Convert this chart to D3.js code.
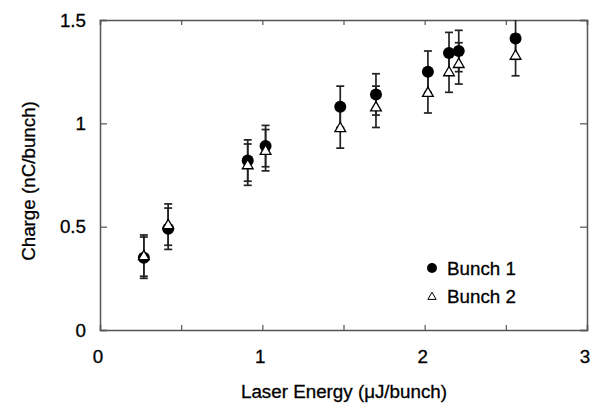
<!DOCTYPE html>
<html><head><meta charset="utf-8">
<script src="https://cdn.jsdelivr.net/npm/d3@7"></script>
<style>body{margin:0;background:#fff}svg{display:block}text{font-family:"Liberation Sans",Arial,sans-serif;stroke:#000;stroke-width:0.3px}</style>
</head><body><svg id="c" width="599" height="412"></svg>
<script>
const energy = [0.27, 0.42, 0.91, 1.02, 1.48, 1.70, 2.02, 2.15, 2.21, 2.56];
const bunch1 = [0.35, 0.49, 0.82, 0.89, 1.08, 1.14, 1.25, 1.34, 1.35, 1.41];
const bunch2 = [0.36, 0.51, 0.80, 0.87, 0.98, 1.08, 1.15, 1.25, 1.29, 1.33];
const err1 = [0.1, 0.1, 0.1, 0.1, 0.1, 0.1, 0.1, 0.1, 0.1, 0.1];
const err2 = [0.1, 0.1, 0.1, 0.1, 0.1, 0.1, 0.1, 0.1, 0.1, 0.1];
const xTicks = [0, 1, 2, 3];
const xMinor = [0.5, 1.5, 2.5];
const yTicks = [0, 0.5, 1, 1.5];
const yTickLabels = ["0", "0.5", "1", "1.5"];
const seriesNames = ["Bunch 1", "Bunch 2"];

const svg = d3.select("#c");
const L = 100, R = 587, T = 20, B = 330;
const FS = 18.8;
const x = d3.scaleLinear().domain([0, 3]).range([L, R]);
const y = d3.scaleLinear().domain([0, 1.5]).range([B, T]);
const frameCol = "#555", barCol = "#222";

svg.append("defs").append("clipPath").attr("id","clip")
  .append("rect").attr("x",L).attr("y",T).attr("width",R-L).attr("height",B-T);

const gB = svg.append("g").attr("transform",`translate(0,${B})`)
  .call(d3.axisBottom(x).tickValues(xTicks.concat(xMinor)).tickSize(-5).tickFormat(""));
const gT = svg.append("g").attr("transform",`translate(0,${T})`)
  .call(d3.axisTop(x).tickValues(xTicks.concat(xMinor)).tickSize(-5).tickFormat(""));
const gL = svg.append("g").attr("transform",`translate(${L},0)`)
  .call(d3.axisLeft(y).tickValues(yTicks).tickSize(-7).tickFormat(""));
const gR = svg.append("g").attr("transform",`translate(${R},0)`)
  .call(d3.axisRight(y).tickValues(yTicks).tickSize(-7).tickFormat(""));
[gB,gT,gL,gR].forEach(g=>{
  g.select(".domain").attr("stroke",frameCol).attr("stroke-width",1.5);
  g.selectAll(".tick line").attr("stroke",frameCol).attr("stroke-width",1.2);
});

svg.append("g").selectAll("text").data(xTicks).join("text")
  .attr("x",d=>x(d)-2).attr("y",363).attr("text-anchor","middle")
  .attr("font-size",FS).attr("fill","#000").text(d=>d);
svg.append("g").selectAll("text").data(yTicks).join("text")
  .attr("x",L-14).attr("y",d=>y(d)+6.5).attr("text-anchor","end")
  .attr("font-size",FS).attr("fill","#000").text((d,i)=>yTickLabels[i]);

svg.append("text").attr("x",344).attr("y",398).attr("text-anchor","middle")
  .attr("font-size",FS).text("Laser Energy (\u03bcJ/bunch)");
svg.append("text").attr("transform","translate(35,181) rotate(-90)").attr("text-anchor","middle")
  .attr("font-size",FS).text("Charge (nC/bunch)");

const plot = svg.append("g").attr("clip-path","url(#clip)");
function errBars(vals, errs){
  const g = plot.append("g").attr("stroke",barCol).attr("stroke-width",1.7);
  energy.forEach((e,i)=>{
    const cx = x(e), y0 = y(vals[i]-errs[i]), y1 = y(vals[i]+errs[i]);
    g.append("line").attr("x1",cx).attr("x2",cx).attr("y1",y0).attr("y2",y1);
    g.append("line").attr("x1",cx-4).attr("x2",cx+4).attr("y1",y0).attr("y2",y0);
    g.append("line").attr("x1",cx-4).attr("x2",cx+4).attr("y1",y1).attr("y2",y1);
  });
}
errBars(bunch1, err1);
errBars(bunch2, err2);

const tri = d3.symbol().type(d3.symbolTriangle).size(50);
plot.append("g").selectAll("circle").data(bunch1).join("circle")
  .attr("cx",(d,i)=>x(energy[i])).attr("cy",d=>y(d)).attr("r",6).attr("fill","#000");
plot.append("g").selectAll("path").data(bunch2).join("path")
  .attr("d",tri).attr("transform",(d,i)=>`translate(${x(energy[i])},${y(d)+1})`)
  .attr("fill","#fff").attr("stroke","#000").attr("stroke-width",1.3);

const lg = svg.append("g");
lg.append("circle").attr("cx",432).attr("cy",268).attr("r",5).attr("fill","#000");
lg.append("path").attr("d",d3.symbol().type(d3.symbolTriangle).size(30))
  .attr("transform","translate(432,297)").attr("fill","#fff").attr("stroke","#000").attr("stroke-width",1);
lg.append("text").attr("x",447).attr("y",275).attr("font-size",FS).text(seriesNames[0]);
lg.append("text").attr("x",447).attr("y",303).attr("font-size",FS).text(seriesNames[1]);
</script></body></html>
